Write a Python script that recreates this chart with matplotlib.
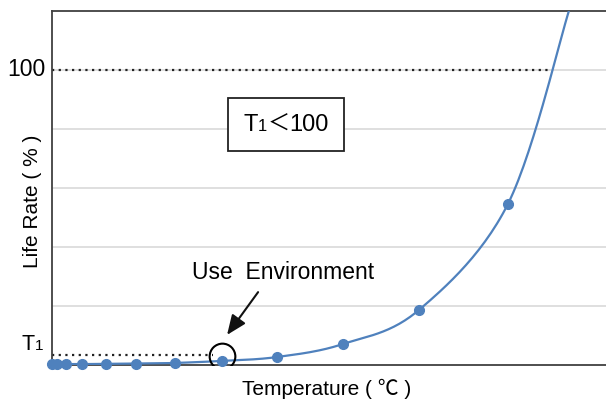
import numpy as np
import matplotlib.pyplot as plt
from matplotlib.offsetbox import TextArea, HPacker, AnnotationBbox

# values (x in relative temperature units, y in %)
temp = [0, 0.9, 2.5, 5.4, 9.7, 15.2, 22.2, 30.7, 40.6, 52.5, 66.2, 82.3]
life = [0.3, 0.3, 0.3, 0.3, 0.4, 0.5, 0.7, 1.4, 2.7, 7.1, 18.6, 54.6]
curve_end = (93.3, 120)          # where the curve leaves the plot
t1_level = 3.4
grid_levels = [20, 40, 60, 80, 100]
use_env = (30.7, 3.0)

fam = ["Liberation Sans", "Noto Sans CJK JP", "DejaVu Sans"]
blue = "#4f81bd"


def catmull_rom(xs, ys, n=30):
    # smooth line through the points, like the spreadsheet's smoothed line
    px = np.array([xs[0]] + list(xs) + [xs[-1]], float)
    py = np.array([ys[0]] + list(ys) + [ys[-1]], float)
    ox, oy = [], []
    t = np.linspace(0, 1, n)
    for i in range(1, len(px) - 2):
        for arr, out in ((px, ox), (py, oy)):
            p0, p1, p2, p3 = arr[i - 1], arr[i], arr[i + 1], arr[i + 2]
            out.extend(0.5 * ((2 * p1) + (-p0 + p2) * t
                              + (2 * p0 - 5 * p1 + 4 * p2 - p3) * t ** 2
                              + (-p0 + 3 * p1 - 3 * p2 + p3) * t ** 3))
    return ox, oy


def packed(pieces):
    return HPacker(children=[TextArea(s, textprops=dict(family=fam, fontsize=f))
                             for s, f in pieces],
                   align="baseline", pad=0, sep=0)


fig = plt.figure(figsize=(6.06, 4.0), dpi=100)
ax = fig.add_axes([52 / 606, 35 / 400, 1 - 52 / 606, 354 / 400])
ax.set_xlim(0, 100)
ax.set_ylim(0, 120)

for g in grid_levels:
    ax.axhline(g, color="#d9d9d9", lw=1.2, zorder=0)

ax.plot([0, 89.5], [100, 100], color="#222222", lw=1.6, ls=(0, (1, 2)), zorder=1)
ax.plot([0, 29], [t1_level, t1_level], color="#222222", lw=1.6, ls=(0, (1, 2)), zorder=1)

sx, sy = catmull_rom(temp + [curve_end[0]], life + [curve_end[1]])
ax.plot(sx, sy, color=blue, lw=1.6, zorder=3, clip_on=True)
ax.plot(temp, life, "o", color=blue, ms=7, zorder=4, clip_on=False)

# circle around the use environment point
ax.plot(*use_env, "o", mfc="none", mec="black", mew=1.5, ms=18.5, zorder=5)
ax.annotate("", xy=(31.6, 10.2), xytext=(37.2, 24.7),
            arrowprops=dict(arrowstyle="-|>,head_width=0.5,head_length=1.2",
                            color="#111111", lw=1.5, shrinkA=0, shrinkB=0))
ax.text(41.7, 31.2, "Use  Environment", family=fam, fontsize=16.5,
        ha="center", va="center")

# T1 < 100 box
ab = AnnotationBbox(packed([("T", 17), ("1", 12), ("＜", 16), ("100", 17)]),
                    (42.3, 81.5), xycoords="data", frameon=True,
                    pad=1.1, box_alignment=(0.5, 0.5))
ab.patch.set_edgecolor("#222222")
ab.patch.set_linewidth(1.3)
ax.add_artist(ab)

# T1 level label
t1 = AnnotationBbox(packed([("T", 15.5), ("1", 11)]), (-1.6, 7.0),
                    xycoords="data", frameon=False, pad=0,
                    box_alignment=(1.0, 0.5), annotation_clip=False)
ax.add_artist(t1)

ax.set_yticks([])
ax.set_xticks([])
ax.text(-1.2, 100, "100", family=fam, fontsize=16.5, ha="right", va="center")

fig.text(33 / 606, 1 - 201 / 400, "Life Rate ( % )", family=fam, fontsize=15,
         rotation=90, ha="center", va="center")
fig.text(327 / 606, 1 - 389 / 400, "Temperature ( ℃ )", family=fam, fontsize=15,
         ha="center", va="center")

ax.spines["right"].set_visible(False)
for s in ("left", "bottom", "top"):
    ax.spines[s].set_color("#404040")
    ax.spines[s].set_linewidth(1.3)

fig.savefig("out.png", dpi=100)
